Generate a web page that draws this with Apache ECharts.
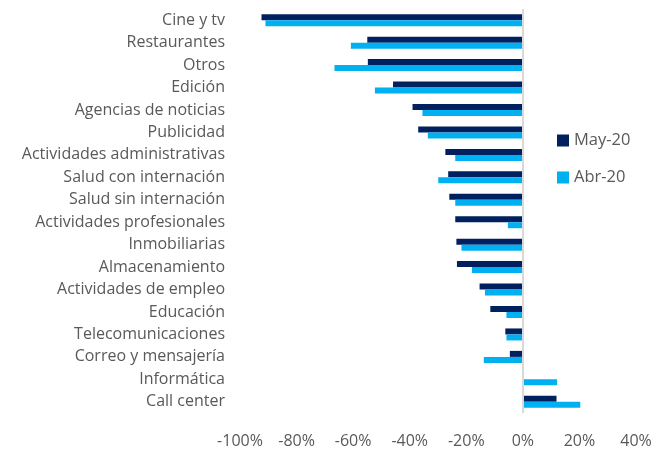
<!DOCTYPE html>
<html>
<head>
<meta charset="utf-8">
<script src="https://cdn.jsdelivr.net/npm/echarts@6/dist/echarts.min.js"></script>
<style>
  html, body { margin: 0; padding: 0; background: #fff; }
  #chart { width: 671px; height: 449px; }
</style>
</head>
<body>
<div id="chart"></div>
<script>
const categories = [
  'Cine y tv', 'Restaurantes', 'Otros', 'Edición', 'Agencias de noticias', 'Publicidad',
  'Actividades administrativas', 'Salud con internación', 'Salud sin internación',
  'Actividades profesionales', 'Inmobiliarias', 'Almacenamiento', 'Actividades de empleo',
  'Educación', 'Telecomunicaciones', 'Correo y mensajería', 'Informática', 'Call center'
];
const may20 = [-92.4, -55, -54.8, -45.9, -39, -37, -27.4, -26.4, -26, -23.9, -23.5, -23.3, -15.3, -11.5, -6.2, -4.6, 0, 11.9];
const abr20 = [-91, -60.8, -66.6, -52.3, -35.5, -33.6, -23.9, -29.9, -23.9, -5.3, -21.7, -18, -13.4, -5.8, -5.8, -13.8, 12.1, 20.3];

const COLORS = { may: '#002060', abr: '#00b0f0', text: '#595959', axis: '#d9d9d9' };
const FONT = 'Open Sans';

const chart = echarts.init(document.getElementById('chart'), null, { renderer: 'canvas' });

chart.setOption({
  animation: false,
  backgroundColor: '#fff',
  textStyle: { fontFamily: FONT },
  grid: { left: 240, right: 35, top: 9, bottom: 36, containLabel: false },
  legend: {
    orient: 'vertical',
    left: 552, top: 127,
    itemWidth: 12, itemHeight: 12, itemGap: 20,
    icon: 'rect',
    textStyle: { color: COLORS.text, fontSize: 16.5, fontFamily: FONT },
    data: ['May-20', 'Abr-20'],
  },
  xAxis: {
    type: 'value',
    min: -100, max: 40, interval: 20,
    splitLine: { show: false },
    axisLine: { show: false },
    axisTick: { show: false },
    axisLabel: { color: COLORS.text, fontSize: 16, margin: 20, formatter: (v) => v + '%' },
  },
  yAxis: {
    type: 'category',
    inverse: true,
    data: categories,
    axisLine: { show: false, onZero: false },
    axisTick: { show: false },
    axisLabel: { color: COLORS.text, fontSize: 16, margin: 15 },
  },
  series: [
    {
      name: 'May-20', type: 'bar', data: may20,
      barWidth: 6, barGap: '0%',
      itemStyle: { color: COLORS.may },
      markLine: {
        silent: true, symbol: 'none', label: { show: false },
        lineStyle: { color: COLORS.axis, type: 'solid', width: 2 },
        data: [{ xAxis: 0 }],
      },
    },
    {
      name: 'Abr-20', type: 'bar', data: abr20,
      barWidth: 6, barGap: '0%',
      itemStyle: { color: COLORS.abr },
    },
  ],
});
</script>
</body>
</html>
